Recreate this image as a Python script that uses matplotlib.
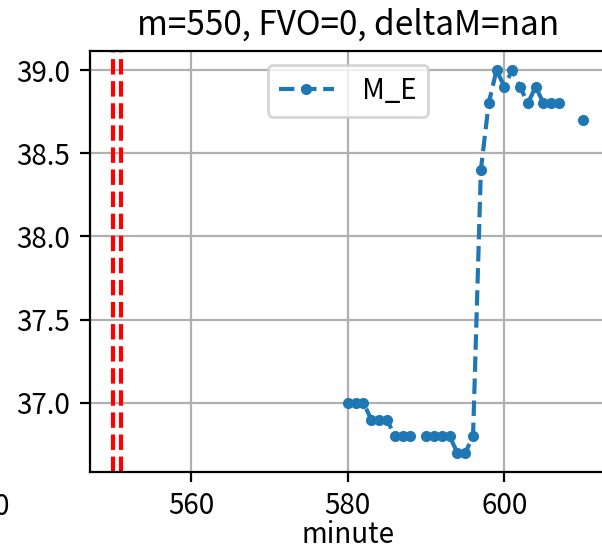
import numpy as np
import matplotlib
matplotlib.use("Agg")
import matplotlib.pyplot as plt

plt.rcParams['font.family'] = ['Noto Sans CJK SC', 'DejaVu Sans']
plt.rcParams['axes.unicode_minus'] = False

# 数据
minutes = np.arange(580, 611)
m_e = [37.0, 37.0, 37.0, 36.9, 36.9, 36.9, 36.8, 36.8, 36.8, np.nan,
       36.8, 36.8, 36.8, 36.8, 36.7, 36.7, 36.8, 38.4, 38.8, 39.0,
       38.9, 39.0, 38.9, 38.8, 38.9, 38.8, 38.8, 38.8, np.nan, np.nan,
       38.7]
m = 550
vlines = [550, 551]
title = "m=550, FVO=0, deltaM=nan"

fig = plt.figure(figsize=(3.01, 2.765), dpi=200)
ax = fig.add_axes([0.1488, 0.1465, 0.858, 0.7615])

ax.plot(minutes, m_e, '.--', label=' M_E')
for v in vlines:
    ax.axvline(v, color='r', linestyle='--')

ax.set_title(title)
ax.set_xlabel("minute", labelpad=-0.5)
ax.legend()
ax.grid(True)

# 邻近子图被裁掉的刻度标签
fig.text(0.002, 0.111, "0", ha='center', va='top', fontsize=10)

fig.savefig("out.png", dpi=200)
